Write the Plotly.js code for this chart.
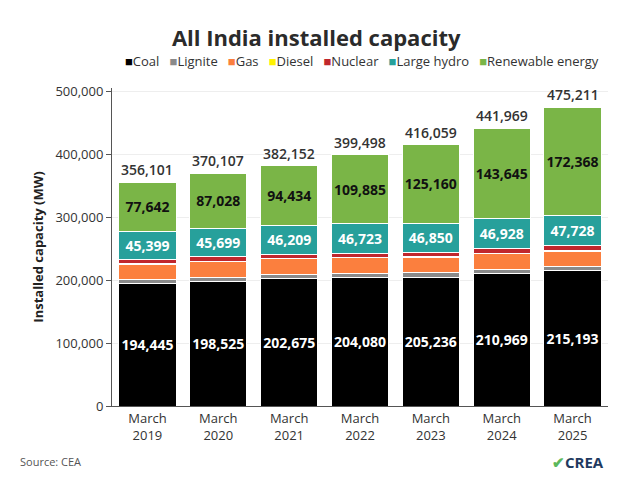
<!DOCTYPE html>
<html>
<head>
<meta charset="utf-8">
<script src="https://cdn.plot.ly/plotly-3.0.1.min.js"></script>
<style>
  body { margin: 0; background: #fff; }
  #chart { width: 620px; height: 486px; }
</style>
</head>
<body>
<div id="chart"></div>
<script>
var years = ['March<br>2019', 'March<br>2020', 'March<br>2021', 'March<br>2022', 'March<br>2023', 'March<br>2024', 'March<br>2025'];

var seriesNames = ['Coal', 'Lignite', 'Gas', 'Diesel', 'Nuclear', 'Large hydro', 'Renewable energy'];
var seriesColors = ['#000000', '#8a8a8a', '#fb7f3e', '#fff200', '#c0272d', '#27a09b', '#7ab547'];

var coal = [194445, 198525, 202675, 204080, 205236, 210969, 215193];
var lignite = [6260, 6610, 6620, 6620, 6620, 6620, 6620];
var gas = [24937, 24955, 24924, 24900, 24824, 25038, 24533];
var diesel = [638, 510, 510, 510, 589, 589, 589];
var nuclear = [6780, 6780, 6780, 6780, 6780, 8180, 8180];
var hydro = [45399, 45699, 46209, 46723, 46850, 46928, 47728];
var renewable = [77642, 87028, 94434, 109885, 125160, 143645, 172368];
var totals = [356101, 370107, 382152, 399498, 416059, 441969, 475211];

var font = '"Open Sans", sans-serif';

function barTrace(i, vals, labelColor) {
    var t = {
        type: 'bar',
        name: seriesNames[i],
        x: years,
        y: vals,
        marker: {color: seriesColors[i], line: {color: '#ffffff', width: 1}},
        showlegend: false,
        hoverinfo: 'skip'
    };
    if (labelColor) {
        t.texttemplate = '<b>%{y:,}</b>';
        t.textposition = 'inside';
        t.insidetextanchor = 'middle';
        t.textangle = 0;
        t.constraintext = 'none';
        t.textfont = {family: font, size: 14, color: labelColor};
    } else {
        t.textposition = 'none';
    }
    return t;
}

var data = [
    barTrace(0, coal, '#ffffff'),
    barTrace(1, lignite),
    barTrace(2, gas),
    barTrace(3, diesel),
    barTrace(4, nuclear),
    barTrace(5, hydro, '#ffffff'),
    barTrace(6, renewable, '#111111')
];

// legend line built from the series names and colours
var legendText = seriesNames.map(function(n, i) {
    return '<span style="color:' + seriesColors[i] + '">■</span>' + n;
}).join('&nbsp;&nbsp;&nbsp;');

// total labels above the bars
var totalNotes = totals.map(function(v, i) {
    return {
        text: v.toLocaleString('en-US'),
        x: years[i], y: v,
        xref: 'x', yref: 'y',
        yanchor: 'bottom',
        yshift: 1,
        showarrow: false,
        font: {family: font, size: 14, color: '#333333', weight: 600}
    };
});

var layout = {
    width: 620,
    height: 486,
    barmode: 'stack',
    bargap: 0.19,
    paper_bgcolor: '#ffffff',
    plot_bgcolor: '#ffffff',
    font: {family: font, color: '#222222'},
    margin: {l: 112, r: 12, t: 88, b: 80},
    showlegend: false,
    title: {
        text: '<b>All India installed capacity</b>',
        font: {family: font, size: 22, color: '#2b2b2b'},
        x: 0.51, xanchor: 'center',
        y: 0.922, yanchor: 'middle'
    },
    xaxis: {
        showline: true,
        linecolor: '#555555',
        linewidth: 1,
        tickfont: {family: font, size: 13, color: '#333333'},
        ticks: '',
        fixedrange: true
    },
    yaxis: {
        range: [0, 506000],
        tickvals: [0, 100000, 200000, 300000, 400000, 500000],
        tickformat: ',',
        showline: true,
        linecolor: '#555555',
        ticks: 'outside',
        ticklen: 5,
        tickcolor: '#555555',
        showgrid: true,
        gridcolor: '#eeeeee',
        zeroline: false,
        tickfont: {family: font, size: 13, color: '#333333'},
        title: {
            text: '<b>Installed capacity (MW)</b>',
            font: {family: font, size: 13, color: '#222222'},
            standoff: 8
        },
        fixedrange: true
    },
    annotations: totalNotes.concat([
        {
            text: legendText,
            xref: 'paper', yref: 'paper',
            x: 0.985, y: 1.085,
            xanchor: 'right', yanchor: 'middle',
            showarrow: false,
            font: {family: font, size: 13, color: '#333333'}
        },
        {
            text: 'Source: CEA',
            xref: 'paper', yref: 'paper',
            x: -0.19, y: -0.175,
            xanchor: 'left', yanchor: 'middle',
            showarrow: false,
            font: {family: font, size: 11, color: '#555555'}
        },
        {
            text: '<b><span style="color:#5cb85c">✔</span>CREA</b>',
            xref: 'paper', yref: 'paper',
            x: 0.995, y: -0.175,
            xanchor: 'right', yanchor: 'middle',
            showarrow: false,
            font: {family: font, size: 15, color: '#1f3a60'}
        }
    ])
};

Plotly.newPlot('chart', data, layout, {displayModeBar: false, staticPlot: true});
</script>
</body>
</html>
